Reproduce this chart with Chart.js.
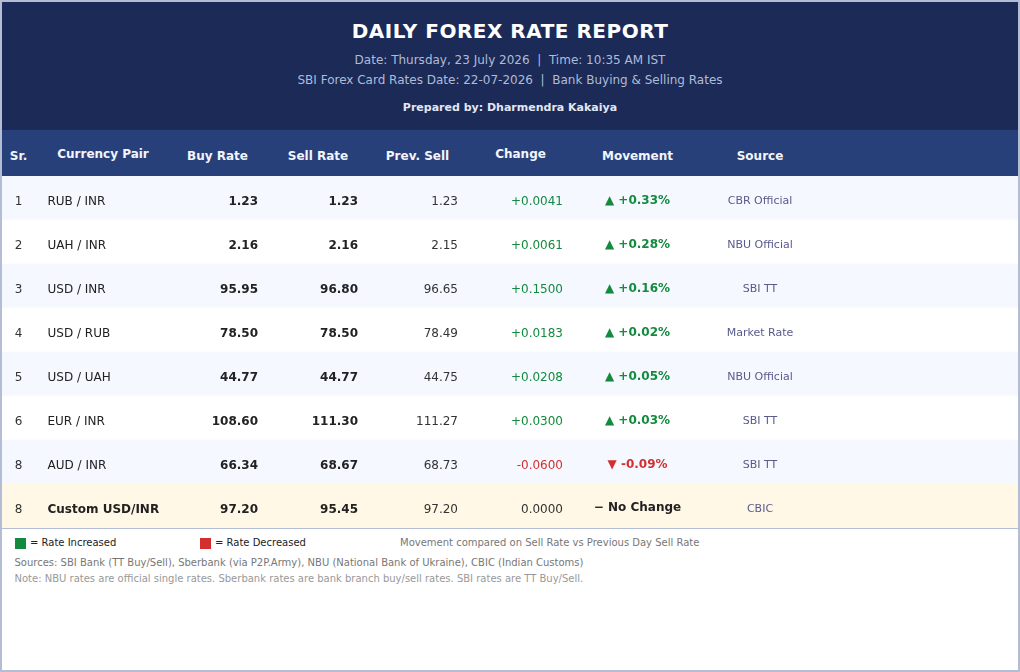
<!DOCTYPE html>
<html>
<head>
<meta charset="utf-8">
<script src="https://cdn.jsdelivr.net/npm/chart.js@4.4.1/dist/chart.umd.min.js"></script>
<style>
  html, body { margin: 0; padding: 0; background: #ffffff; }
  #frame { position: relative; width: 1020px; height: 672px; box-sizing: border-box; border: 2px solid #b3bed5; background: #ffffff; overflow: hidden; font-family: "DejaVu Sans", sans-serif; }
  #hdr { position: absolute; left: 0; top: 0; width: 1016px; height: 128px; background: #1b2a56; }
  #band { position: absolute; left: 0; top: 128px; width: 1016px; height: 46px; background: #28407a; }
  .t { position: absolute; white-space: nowrap; }
  .ctr { left: 0; width: 1016px; text-align: center; }
  #title { top: 19px; font-size: 20px; line-height: 20px; font-weight: bold; color: #ffffff; letter-spacing: 0.5px; }
  #sub1 { top: 52px; font-size: 12px; line-height: 12px; color: #afbcd9; }
  #sub2 { top: 72px; font-size: 12px; line-height: 12px; color: #afbcd9; }
  #prep { top: 100px; font-size: 11px; line-height: 11px; font-weight: bold; color: #e2e7f4; }
  .th { top: 148px; font-size: 12px; line-height: 12px; font-weight: bold; color: #f2f5fc; transform: translateX(-50%); }
  .th.hi { top: 145.5px; }
  #sep { position: absolute; left: 0; top: 526px; width: 1016px; height: 1px; background: #b3bed5; }
  .sq { position: absolute; width: 11px; height: 11px; top: 536px; }
  .ft { font-size: 10px; line-height: 10px; }
  #chartCanvas { position: absolute; left: 0; top: 174px; width: 1016px; height: 352px; }
</style>
</head>
<body>
<div id="frame">
  <div id="hdr"></div>
  <div class="t ctr" id="title">DAILY FOREX RATE REPORT</div>
  <div class="t ctr" id="sub1">Date: Thursday, 23 July 2026&nbsp;&nbsp;|&nbsp;&nbsp;Time: 10:35 AM IST</div>
  <div class="t ctr" id="sub2">SBI Forex Card Rates Date: 22-07-2026&nbsp;&nbsp;|&nbsp;&nbsp;Bank Buying &amp; Selling Rates</div>
  <div class="t ctr" id="prep">Prepared by: Dharmendra Kakaiya</div>
  <div id="band"></div>
  <div id="heads"></div>
  <canvas id="chartCanvas" width="1016" height="352"></canvas>
  <div id="sep"></div>
  <div class="sq" style="left:13px;background:#138a3e;"></div>
  <div class="t ft" style="left:28px;top:535.5px;color:#222;">= Rate Increased</div>
  <div class="sq" style="left:198px;background:#d32f2f;"></div>
  <div class="t ft" style="left:213px;top:535.5px;color:#222;">= Rate Decreased</div>
  <div class="t ft" style="left:398px;top:535.5px;color:#777;">Movement compared on Sell Rate vs Previous Day Sell Rate</div>
  <div class="t ft" style="left:12.5px;top:555.5px;color:#777;">Sources: SBI Bank (TT Buy/Sell), Sberbank (via P2P.Army), NBU (National Bank of Ukraine), CBIC (Indian Customs)</div>
  <div class="t ft" style="left:12.5px;top:571.5px;color:#999;">Note: NBU rates are official single rates. Sberbank rates are bank branch buy/sell rates. SBI rates are TT Buy/Sell.</div>
</div>
<script>
// ---- data ----
const columnHeaders = ["Sr.", "Currency Pair", "Buy Rate", "Sell Rate", "Prev. Sell", "Change", "Movement", "Source"];
const serial = [1, 2, 3, 4, 5, 6, 8, 8];
const pairs = ["RUB / INR", "UAH / INR", "USD / INR", "USD / RUB", "USD / UAH", "EUR / INR", "AUD / INR", "Custom USD/INR"];
const buyRate = [1.23, 2.16, 95.95, 78.50, 44.77, 108.60, 66.34, 97.20];
const sellRate = [1.23, 2.16, 96.80, 78.50, 44.77, 111.30, 68.67, 95.45];
const prevSell = [1.23, 2.15, 96.65, 78.49, 44.75, 111.27, 68.73, 97.20];
const change = [0.0041, 0.0061, 0.1500, 0.0183, 0.0208, 0.0300, -0.0600, 0.0000];
const movementPct = [0.33, 0.28, 0.16, 0.02, 0.05, 0.03, -0.09, 0];
const source = ["CBR Official", "NBU Official", "SBI TT", "Market Rate", "NBU Official", "SBI TT", "SBI TT", "CBIC"];

// ---- header cells (HTML text) ----
const headX = [16.5, 101, 215.5, 316, 415.5, 518.5, 635.5, 758];
const headHi = [false, true, false, false, false, true, false, false];
const heads = document.getElementById('heads');
columnHeaders.forEach((h, i) => {
  const d = document.createElement('div');
  d.className = 't th' + (headHi[i] ? ' hi' : '');
  d.style.left = headX[i] + 'px';
  d.textContent = h;
  heads.appendChild(d);
});

// ---- styles ----
const GREEN = '#138a3e', RED = '#d32f2f';
const FONT = '"DejaVu Sans", sans-serif';
const lastIdx = pairs.length - 1;

function rowColor(i) {
  if (i === lastIdx) return '#fff8e6';
  return i % 2 === 0 ? '#f5f8ff' : '#ffffff';
}
function sign(v, d) {
  if (v > 0) return '+' + v.toFixed(d);
  if (v < 0) return '-' + Math.abs(v).toFixed(d);
  return v.toFixed(d);
}

const cellPlugin = {
  id: 'cells',
  afterDatasetsDraw(chart) {
    const ctx = chart.ctx;
    const y = chart.scales.y;
    ctx.save();
    ctx.textBaseline = 'alphabetic';
    pairs.forEach((p, i) => {
      const yc = y.getPixelForValue(i);
      const base = yc + 6.5;
      const last = i === lastIdx;
      function txt(s, x, align, font, color, by) {
        ctx.font = font;
        ctx.fillStyle = color;
        ctx.textAlign = align;
        ctx.fillText(s, x, by === undefined ? base : by);
      }
      txt(String(serial[i]), 16.5, 'center', '12px ' + FONT, '#333333');
      txt(p, 45.5, 'left', (last ? 'bold ' : '') + '12px ' + FONT, '#222222');
      txt(buyRate[i].toFixed(2), 256, 'right', 'bold 12px ' + FONT, '#222222');
      txt(sellRate[i].toFixed(2), 356, 'right', 'bold 12px ' + FONT, '#222222');
      txt(prevSell[i].toFixed(2), 456, 'right', '12px ' + FONT, '#333333');
      const c = change[i];
      txt(sign(c, 4), 561, 'right', '12px ' + FONT, c > 0 ? GREEN : (c < 0 ? RED : '#333333'));
      const m = movementPct[i];
      if (m > 0) txt('\u25B2 ' + sign(m, 2) + '%', 635.5, 'center', 'bold 12px ' + FONT, GREEN, yc + 5.7);
      else if (m < 0) txt('\u25BC ' + sign(m, 2) + '%', 635.5, 'center', 'bold 12px ' + FONT, RED, yc + 5.7);
      else txt('\u2212 No Change', 635.5, 'center', 'bold 12px ' + FONT, '#222222', yc + 5);
      txt(source[i], 758, 'center', '11px ' + FONT, '#5a5a8c', yc + 6.3);
    });
    ctx.restore();
  }
};

new Chart(document.getElementById('chartCanvas'), {
  type: 'bar',
  data: {
    labels: pairs,
    datasets: [{
      data: pairs.map(() => [0, 1]),
      backgroundColor: (c) => rowColor(c.dataIndex),
      borderWidth: 0,
      barPercentage: 1,
      categoryPercentage: 1
    }]
  },
  options: {
    indexAxis: 'y',
    responsive: false,
    maintainAspectRatio: false,
    animation: false,
    devicePixelRatio: 1,
    events: [],
    layout: { padding: 0 },
    plugins: { legend: { display: false }, tooltip: { enabled: false } },
    scales: {
      x: { display: false, min: 0, max: 1 },
      y: { display: false }
    }
  },
  plugins: [cellPlugin]
});
</script>
</body>
</html>
